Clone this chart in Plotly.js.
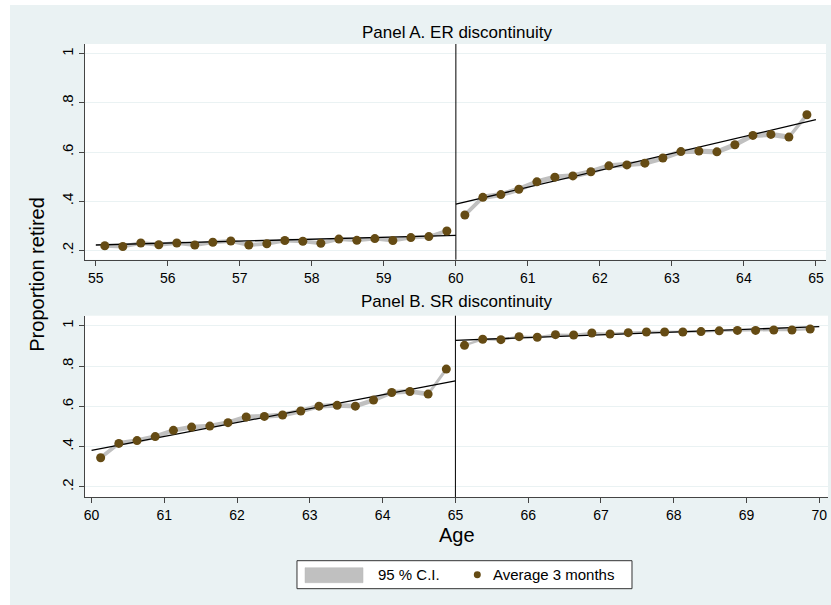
<!DOCTYPE html>
<html><head><meta charset="utf-8">
<script src="https://cdn.plot.ly/plotly-3.0.1.min.js"></script>
<style>html,body{margin:0;padding:0;background:#fff;} #chart{position:absolute;left:10px;top:5px;width:821px;height:600px;}</style>
</head><body><div id="chart"></div>
<script>
// Panel A (ER discontinuity at 60)
const agesA1 = [55.125,55.375,55.625,55.875,56.125,56.375,56.625,56.875,57.125,57.375,57.625,57.875,58.125,58.375,58.625,58.875,59.125,59.375,59.625,59.875];
const propA1 = [0.219,0.216,0.230,0.223,0.230,0.222,0.233,0.238,0.222,0.227,0.240,0.237,0.229,0.246,0.241,0.248,0.240,0.252,0.256,0.279];
const loA1 = [0.211,0.208,0.222,0.215,0.222,0.214,0.225,0.230,0.214,0.219,0.232,0.229,0.221,0.238,0.233,0.240,0.232,0.244,0.248,0.270];
const hiA1 = [0.227,0.224,0.238,0.231,0.238,0.230,0.241,0.246,0.230,0.235,0.248,0.245,0.237,0.254,0.249,0.256,0.248,0.260,0.264,0.288];
const agesA2 = [60.125,60.375,60.625,60.875,61.125,61.375,61.625,61.875,62.125,62.375,62.625,62.875,63.125,63.375,63.625,63.875,64.125,64.375,64.625,64.875];
const propA2 = [0.344,0.416,0.427,0.449,0.479,0.498,0.503,0.520,0.544,0.548,0.555,0.576,0.602,0.604,0.601,0.630,0.668,0.672,0.661,0.752];
const loA2 = [0.333,0.405,0.416,0.438,0.468,0.487,0.492,0.509,0.533,0.537,0.544,0.565,0.591,0.593,0.590,0.619,0.657,0.661,0.650,0.740];
const hiA2 = [0.355,0.427,0.438,0.460,0.490,0.509,0.514,0.531,0.555,0.559,0.566,0.587,0.613,0.615,0.612,0.641,0.679,0.683,0.672,0.764];
const fitA1X = [55, 60], fitA1Y = [0.222, 0.261];
const fitA2X = [60, 65], fitA2Y = [0.388, 0.732];
const cutA = 60;

// Panel B (SR discontinuity at 65)
const agesB1 = [60.125,60.375,60.625,60.875,61.125,61.375,61.625,61.875,62.125,62.375,62.625,62.875,63.125,63.375,63.625,63.875,64.125,64.375,64.625,64.875];
const propB1 = [0.345,0.416,0.430,0.450,0.481,0.497,0.502,0.519,0.547,0.550,0.557,0.577,0.601,0.605,0.601,0.631,0.669,0.674,0.661,0.785];
const loB1 = [0.333,0.404,0.418,0.438,0.469,0.485,0.490,0.507,0.535,0.538,0.545,0.565,0.589,0.593,0.589,0.619,0.657,0.662,0.649,0.772];
const hiB1 = [0.357,0.428,0.442,0.462,0.493,0.509,0.514,0.531,0.559,0.562,0.569,0.589,0.613,0.617,0.613,0.643,0.681,0.686,0.673,0.798];
const agesB2 = [65.125,65.375,65.625,65.875,66.125,66.375,66.625,66.875,67.125,67.375,67.625,67.875,68.125,68.375,68.625,68.875,69.125,69.375,69.625,69.875];
const propB2 = [0.903,0.933,0.931,0.946,0.943,0.956,0.954,0.964,0.959,0.966,0.969,0.969,0.969,0.971,0.975,0.977,0.977,0.979,0.979,0.984];
const loB2 = [0.897,0.927,0.925,0.940,0.937,0.950,0.948,0.958,0.953,0.960,0.963,0.963,0.963,0.965,0.969,0.971,0.971,0.973,0.973,0.978];
const hiB2 = [0.909,0.939,0.937,0.952,0.949,0.962,0.960,0.970,0.965,0.972,0.975,0.975,0.975,0.977,0.981,0.983,0.983,0.985,0.985,0.990];
const fitB1X = [60, 65], fitB1Y = [0.382, 0.726];
const fitB2X = [65, 70], fitB2Y = [0.928, 0.996];
const cutB = 65;

const xTicksA = [55,56,57,58,59,60,61,62,63,64,65];
const xTicksB = [60,61,62,63,64,65,66,67,68,69,70];
const yTicks = [0.2,0.4,0.6,0.8,1];
const yTickText = ['.2','.4','.6','.8','1'];
const legendLabels = ['95 % C.I.', 'Average 3 months'];

const ciColor = '#c0c0c0', dotColor = '#654b14';
let traces = [];
function segment(xs, lo, hi, ys, fx, fy, xa, ya) {
  traces.push({x: xs, y: lo, xaxis: xa, yaxis: ya, mode: 'lines', line: {width: 0, color: ciColor}, showlegend: false, hoverinfo: 'skip'});
  traces.push({x: xs, y: hi, xaxis: xa, yaxis: ya, mode: 'lines', line: {width: 0, color: ciColor}, fill: 'tonexty', fillcolor: ciColor, name: legendLabels[0], showlegend: false});
  traces.push({x: fx, y: fy, xaxis: xa, yaxis: ya, mode: 'lines', line: {width: 1.3, color: '#000'}, showlegend: false});
  traces.push({x: xs, y: ys, xaxis: xa, yaxis: ya, mode: 'markers', marker: {size: 9, color: dotColor}, name: legendLabels[1], showlegend: false});
}
segment(agesA1, loA1, hiA1, propA1, fitA1X, fitA1Y, 'x', 'y');
segment(agesA2, loA2, hiA2, propA2, fitA2X, fitA2Y, 'x', 'y');
segment(agesB1, loB1, hiB1, propB1, fitB1X, fitB1Y, 'x2', 'y2');
segment(agesB2, loB2, hiB2, propB2, fitB2X, fitB2Y, 'x2', 'y2');

const font = {family: 'Liberation Sans, Arial, sans-serif', color: '#000'};
const axCommon = {showline: true, linecolor: '#444', linewidth: 1, ticks: 'outside', ticklen: 5, tickcolor: '#444', zeroline: false, tickfont: Object.assign({size: 14}, font)};
const layout = {
  width: 821, height: 600,
  paper_bgcolor: '#eaf2f3', plot_bgcolor: '#ffffff',
  margin: {l: 75, r: 3, t: 39, b: 108},
  font: font,
  showlegend: false,
  xaxis: Object.assign({}, axCommon, {domain: [0, 0.9973], anchor: 'y', range: [54.85, 65.14], tickvals: xTicksA, showgrid: false}),
  yaxis: Object.assign({}, axCommon, {domain: [0.5238, 1], anchor: 'x', range: [0.162, 1.04], tickvals: yTicks, ticktext: yTickText, tickangle: -90, showgrid: true, gridcolor: '#eaf2f3', tickfont: Object.assign({size: 15}, font)}),
  xaxis2: Object.assign({}, axCommon, {domain: [0, 1], anchor: 'y2', range: [59.91, 70.12], tickvals: xTicksB, showgrid: false}),
  yaxis2: Object.assign({}, axCommon, {domain: [0, 0.4002], anchor: 'x2', range: [0.150, 1.05], tickvals: yTicks, ticktext: yTickText, tickangle: -90, showgrid: true, gridcolor: '#eaf2f3', tickfont: Object.assign({size: 15}, font)}),
  shapes: [
    {type: 'line', xref: 'x', yref: 'y domain', x0: cutA, x1: cutA, y0: 0, y1: 1, line: {color: '#000', width: 1}},
    {type: 'line', xref: 'x2', yref: 'y2 domain', x0: cutB, x1: cutB, y0: 0, y1: 1, line: {color: '#000', width: 1}},
    // legend box
    {type: 'rect', xref: 'paper', yref: 'paper', x0: 0.2853, x1: 0.7362, y0: -0.2024, y1: -0.1406, fillcolor: '#ffffff', line: {color: '#333', width: 1}},
    {type: 'rect', xref: 'paper', yref: 'paper', x0: 0.2961, x1: 0.3742, y0: -0.1892, y1: -0.1561, fillcolor: ciColor, line: {color: '#b8b8b8', width: 0.5}},
    {type: 'circle', xref: 'paper', yref: 'paper', x0: 0.5233, x1: 0.5327, y0: -0.1792, y1: -0.1638, fillcolor: dotColor, line: {width: 0}}
  ],
  annotations: [
    {text: 'Panel A. ER discontinuity', xref: 'paper', yref: 'paper', x: 0.5, y: 1.026, xanchor: 'center', yanchor: 'middle', showarrow: false, font: Object.assign({}, font, {size: 17})},
    {text: 'Panel B. SR discontinuity', xref: 'paper', yref: 'paper', x: 0.5, y: 0.431, xanchor: 'center', yanchor: 'middle', showarrow: false, font: Object.assign({}, font, {size: 17})},
    {text: 'Proportion retired', xref: 'paper', yref: 'paper', x: -0.0646, y: 0.4907, xanchor: 'center', yanchor: 'middle', textangle: -90, showarrow: false, font: Object.assign({}, font, {size: 20})},
    {text: 'Age', xref: 'paper', yref: 'paper', x: 0.5, y: -0.0832, xanchor: 'center', yanchor: 'middle', showarrow: false, font: Object.assign({}, font, {size: 20})},
    {text: legendLabels[0], xref: 'paper', yref: 'paper', x: 0.3917, y: -0.1715, xanchor: 'left', yanchor: 'middle', showarrow: false, font: Object.assign({}, font, {size: 15})},
    {text: legendLabels[1], xref: 'paper', yref: 'paper', x: 0.546, y: -0.1715, xanchor: 'left', yanchor: 'middle', showarrow: false, font: Object.assign({}, font, {size: 15})}
  ]
};
Plotly.newPlot('chart', traces, layout, {displayModeBar: false, staticPlot: true});
</script></body></html>
